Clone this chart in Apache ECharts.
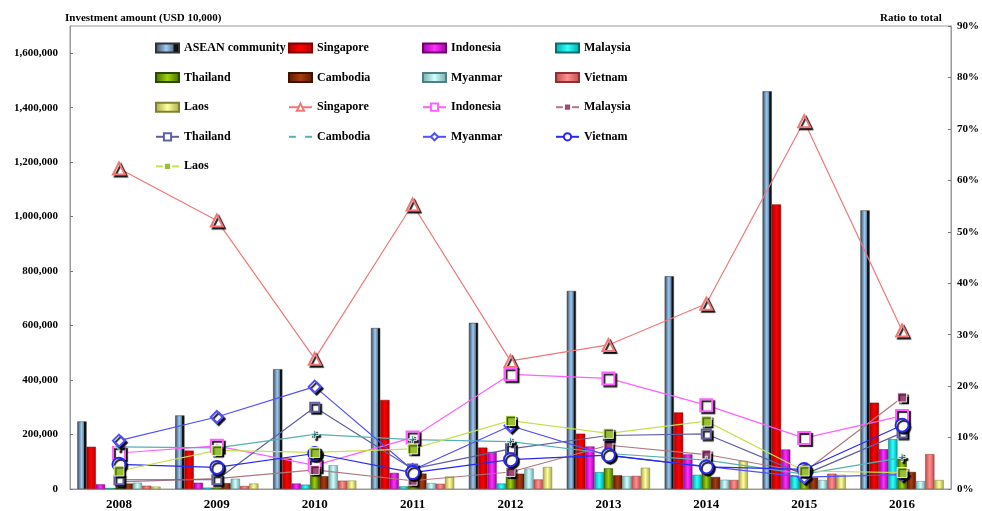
<!DOCTYPE html>
<html>
<head>
<meta charset="utf-8">
<script src="https://cdn.jsdelivr.net/npm/echarts@6/dist/echarts.min.js"></script>
<style>
html,body{margin:0;padding:0;background:#fff;}
#chart{width:982px;height:511px;}
</style>
</head>
<body>
<div id="chart"></div>
<script>
// ---------- data ----------
const years = ['2008','2009','2010','2011','2012','2013','2014','2015','2016'];
const leftTicks = [0, 1700000, 200000];   // min, max, interval (USD 10,000)
const rightTicks = [0, 90, 10];           // min, max, interval (%)

// Investment amount (USD 10,000)
const aseanAmt     = [248000, 270000, 440000, 591000, 610000, 727000, 781000, 1460000, 1023000];
const singaporeAmt = [155000, 141000, 112000, 327000, 152000, 203000, 281000, 1045000, 317000];
const indonesiaAmt = [17000, 23000, 20000, 59000, 136000, 156000, 127000, 145000, 146000];
const malaysiaAmt  = [3500, 5000, 16000, 9500, 20000, 62000, 52000, 49000, 183000];
const thailandAmt  = [4500, 5000, 70000, 23000, 48000, 76000, 84000, 41000, 112000];
const cambodiaAmt  = [20000, 21500, 47000, 56500, 56000, 50000, 44000, 42000, 62500];
const myanmarAmt   = [23000, 37500, 87500, 22000, 75000, 47500, 34000, 33000, 29000];
const vietnamAmt   = [12000, 11000, 30500, 19000, 35000, 48000, 33000, 56000, 128000];
const laosAmt      = [8700, 20000, 31000, 46000, 81000, 78000, 103000, 52000, 33000];

// Ratio to total (%)
const singaporeRatio = [62.3, 52.2, 25.3, 55.3, 24.9, 28.0, 36.0, 71.5, 30.8];
const indonesiaRatio = [7.0, 8.4, 4.6, 10.0, 22.3, 21.5, 16.3, 9.9, 14.2];
const malaysiaRatio  = [1.4, 2.0, 3.7, 1.6, 3.3, 8.5, 6.7, 3.3, 17.8];
const thailandRatio  = [1.8, 1.8, 15.9, 3.9, 7.8, 10.4, 10.7, 2.8, 10.9];
const cambodiaRatio  = [8.2, 8.0, 10.6, 9.6, 9.2, 6.9, 5.6, 2.9, 6.1];
const myanmarRatio   = [9.4, 14.0, 19.9, 3.7, 12.3, 6.5, 4.4, 2.3, 2.8];
const vietnamRatio   = [4.8, 4.2, 6.9, 3.2, 5.7, 6.6, 4.3, 3.8, 12.4];
const laosRatio      = [3.5, 7.5, 7.1, 7.8, 13.3, 10.8, 13.2, 3.5, 3.2];

// ---------- styles ----------
const FONT = 'Liberation Serif';
function grad(edge, mid, edge2) {
  return {type:'linear', x:0, y:0, x2:1, y2:0,
    colorStops:[{offset:0,color:edge},{offset:0.5,color:mid},{offset:1,color:edge2||edge}]};
}
const aseanGrad = {type:'linear', x:0, y:0, x2:1, y2:0, colorStops:[
  {offset:0,color:'#3a4a5e'},{offset:0.45,color:'#9ccbf2'},{offset:0.72,color:'#5d7d9e'},
  {offset:0.76,color:'#111'},{offset:1,color:'#111'}]};

const bars = [
  ['ASEAN community', aseanAmt, aseanGrad, '#333'],
  ['Singapore', singaporeAmt, grad('#b00000','#ff0000'), '#800000'],
  ['Indonesia', indonesiaAmt, grad('#a000a0','#ff30ff'), '#700070'],
  ['Malaysia', malaysiaAmt, grad('#00a8a8','#30ffff'), '#007070'],
  ['Thailand', thailandAmt, grad('#3f6a00','#a0d010'), '#2a4a00'],
  ['Cambodia', cambodiaAmt, grad('#5a1800','#a83c10'), '#401000'],
  ['Myanmar', myanmarAmt, grad('#70a8a8','#d0ffff'), '#508080'],
  ['Vietnam', vietnamAmt, grad('#c04848','#ff9090'), '#903030'],
  ['Laos', laosAmt, grad('#a8a848','#ffffa0'), '#808030']
];

const plusPath = 'path://M3,0H5V3H8V5H5V8H3V5H0V3H3Z';
const lines = [
  ['Singapore ', singaporeRatio, '#f07878', 'emptyTriangle', 12, null],
  ['Indonesia ', indonesiaRatio, '#ff60ff', 'emptyRect', 12, null],
  ['Malaysia ', malaysiaRatio, '#b07880', 'rect', 9, '#a04878'],
  ['Thailand ', thailandRatio, '#6060a0', 'emptyRect', 9, null],
  ['Cambodia ', cambodiaRatio, '#58b0b0', plusPath, 8, '#40a0a0'],
  ['Myanmar ', myanmarRatio, '#5050ff', 'emptyDiamond', 12, null],
  ['Vietnam ', vietnamRatio, '#2828f0', 'emptyCircle', 13, null],
  ['Laos ', laosRatio, '#c8e050', 'rect', 10, '#98c030']
];

const series = [];
bars.forEach(([name, data, color, border]) => {
  series.push({
    name, type:'bar', yAxisIndex:0, data,
    barGap:'0%', barCategoryGap:'15%',
    itemStyle:{color, borderColor:border, borderWidth:0.5},
    emphasis:{disabled:true}
  });
});
lines.forEach(([name, data, color, symbol, size, fill]) => {
  series.push({
    name, type:'line', yAxisIndex:1, data,
    symbol, symbolSize:size, showAllSymbol:true,
    lineStyle:{color, width:1.2},
    itemStyle:{color: fill || color, borderColor: fill ? '#ffffff' : color, borderWidth: fill ? 0.8 : 1.6,
      shadowColor:'rgba(0,0,0,0.9)', shadowBlur:1, shadowOffsetX:2, shadowOffsetY:2},
    emphasis:{disabled:true},
    z:5
  });
});

function mkLegend(left, names) {
  return {
    orient:'vertical', left, top:41, padding:0,
    itemWidth:23, itemHeight:9, itemGap:15.6,
    selectedMode:false,
    data: names.map(n => lines.some(l => l[0] === n) ? {name:n} : {name:n, icon:'rect'}),
    formatter: n => n.trim(),
    textStyle:{fontFamily:FONT, fontWeight:'bold', fontSize:12, color:'#000', lineHeight:14}
  };
}

const option = {
  animation:false,
  backgroundColor:'#fff',
  title:[
    {text:'Investment amount (USD 10,000)', left:63, top:12, padding:[1,2],
      backgroundColor:'#fff',
      textStyle:{fontFamily:FONT, fontWeight:'bold', fontSize:11, color:'#000'}},
    {text:'Ratio to total', left:878, top:12, padding:[1,2],
      backgroundColor:'#fff',
      textStyle:{fontFamily:FONT, fontWeight:'bold', fontSize:11, color:'#000'}}
  ],
  legend:[
    mkLegend(155, ['ASEAN community','Thailand','Laos','Thailand ','Laos ']),
    mkLegend(288, ['Singapore','Cambodia','Singapore ','Cambodia ']),
    mkLegend(422, ['Indonesia','Myanmar','Indonesia ','Myanmar ']),
    mkLegend(555, ['Malaysia','Vietnam','Malaysia ','Vietnam '])
  ],
  grid:{left:70, right:25, top:26, bottom:18.5, show:true, borderColor:'#9a9a9a', borderWidth:1, containLabel:false},
  xAxis:{
    type:'category', data:years, boundaryGap:true,
    axisLine:{lineStyle:{color:'#9a9a9a'}},
    axisTick:{inside:true, length:4, lineStyle:{color:'#777'}},
    axisLabel:{fontFamily:FONT, fontWeight:'bold', fontSize:13, color:'#000', margin:9}
  },
  yAxis:[
    {type:'value', min:leftTicks[0], max:leftTicks[1], interval:leftTicks[2],
      axisLine:{show:true, lineStyle:{color:'#9a9a9a'}},
      axisTick:{show:true, inside:true, length:3, lineStyle:{color:'#777'}},
      splitLine:{show:false},
      axisLabel:{showMaxLabel:false, fontFamily:FONT, fontWeight:'bold', fontSize:11, color:'#000', margin:12,
        formatter: v => v.toLocaleString('en-US')}},
    {type:'value', min:rightTicks[0], max:rightTicks[1], interval:rightTicks[2], position:'right',
      axisLine:{show:true, lineStyle:{color:'#9a9a9a'}},
      axisTick:{show:true, inside:true, length:3, lineStyle:{color:'#777'}},
      splitLine:{show:false},
      axisLabel:{fontFamily:FONT, fontWeight:'bold', fontSize:11, color:'#000', margin:6,
        formatter:'{value}%'}}
  ],
  series
};

const chart = echarts.init(document.getElementById('chart'), null, {renderer:'canvas'});
chart.setOption(option);
</script>
</body>
</html>
